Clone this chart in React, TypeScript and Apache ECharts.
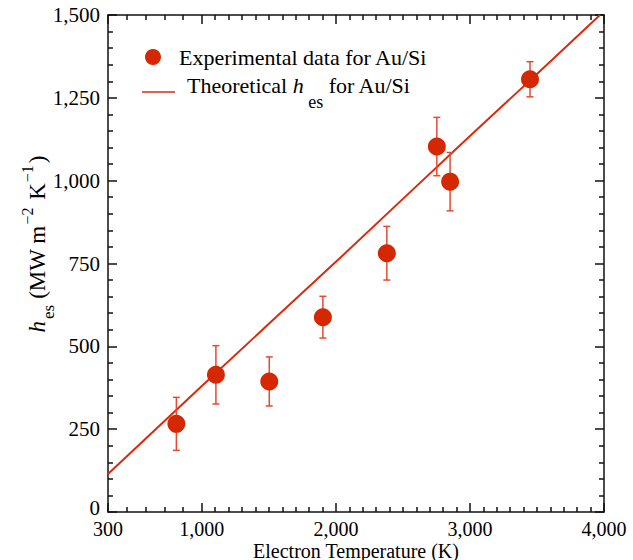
import React, { useEffect, useRef } from 'react';
import * as echarts from 'echarts';

// Experimental data (Electron temperature in K, h_es in MW m^-2 K^-1)
const temperatures = [810, 1105, 1503, 1903, 2380, 2753, 2852, 3448];
const hesMeasured = [266, 414, 394, 588, 781, 1103, 997, 1306];
const hesError = [80, 88, 74, 63, 81, 88, 88, 53];

// Theoretical curve
const theoryT = [300, 1000, 1500, 2000, 2500, 3000, 3500, 3970];
const theoryHes = [115, 380, 568, 755, 945, 1135, 1322, 1500];

// Axis ticks
const xMajorTicks = [300, 1000, 2000, 3000, 4000];
const xMinorTicks = [
  440, 580, 720, 860,
  1100, 1200, 1300, 1400, 1500, 1600, 1700, 1800, 1900,
  2100, 2200, 2300, 2400, 2500, 2600, 2700, 2800, 2900,
  3100, 3200, 3300, 3400, 3500, 3600, 3700, 3800, 3900,
];
const yMin = 0;
const yMax = 1500;
const yStep = 250;

const RED = '#d62800';
const LINE_RED = '#d92b0c';
const ERR_RED = '#e54a30';
const FONT = 'Liberation Serif';
const AXIS_COLOR = '#111';

const fmt = (v: number) => Math.round(v).toLocaleString('en-US');
const fmtY = (v: number) => (v === 0 ? '{z|0}' : fmt(v));

export default function App() {
  const ref = useRef<HTMLDivElement>(null);

  useEffect(() => {
    const chart = echarts.init(ref.current!, null, { renderer: 'svg' });

    const axisLine = { show: true, lineStyle: { color: AXIS_COLOR, width: 1.5 } };
    const tickStyle = { color: AXIS_COLOR, width: 1.5 };

    const xBase = { type: 'value', min: 300, max: 4000, splitLine: { show: false } };
    const yBase = {
      type: 'value', min: yMin, max: yMax, interval: yStep, splitLine: { show: false },
    };

    const errData = temperatures.map((t, i) => [t, hesMeasured[i] - hesError[i], hesMeasured[i] + hesError[i]]);

    const option: any = {
      animation: false,
      backgroundColor: '#fff',
      textStyle: { fontFamily: FONT },
      grid: { left: 108, right: 29, top: 15, bottom: 48, containLabel: false, outerBoundsMode: 'none' },
      xAxis: [
        {
          ...xBase,
          position: 'bottom',
          axisLine,
          axisTick: { show: true, inside: true, length: 9, customValues: xMajorTicks, lineStyle: tickStyle },
          axisLabel: {
            show: true, customValues: xMajorTicks, formatter: fmt, fontSize: 20, lineHeight: 20,
            fontFamily: FONT, color: '#000', margin: 7,
          },
          name: 'Electron Temperature (K)',
          nameLocation: 'middle',
          nameGap: 28.5,
          nameMoveOverlap: false,
          nameTextStyle: { fontSize: 20, lineHeight: 20, fontFamily: FONT, color: '#000' },
        },
        {
          ...xBase,
          position: 'bottom',
          axisLine: { show: false },
          axisTick: { show: true, inside: true, length: 5, customValues: xMinorTicks, lineStyle: tickStyle },
          axisLabel: { show: false },
        },
        {
          ...xBase,
          position: 'top',
          axisLine,
          axisTick: { show: true, inside: true, length: 9, customValues: xMajorTicks, lineStyle: tickStyle },
          axisLabel: { show: false },
        },
        {
          ...xBase,
          position: 'top',
          axisLine: { show: false },
          axisTick: { show: true, inside: true, length: 5, customValues: xMinorTicks, lineStyle: tickStyle },
          axisLabel: { show: false },
        },
      ],
      yAxis: [
        {
          ...yBase,
          position: 'left',
          axisLine,
          axisTick: { show: true, inside: true, length: 9, lineStyle: tickStyle },
          minorTick: { show: true, splitNumber: 5, length: 5, lineStyle: tickStyle },
          axisLabel: {
            show: true, formatter: fmtY, fontSize: 21, lineHeight: 16,
            fontFamily: FONT, color: '#000', margin: 8,
            rich: {
              z: { fontSize: 21, lineHeight: 16, fontFamily: FONT, color: '#000', padding: [0, 0, 8, 0] },
            },
          },
        },
        {
          ...yBase,
          position: 'right',
          axisLine,
          axisTick: { show: true, inside: true, length: 9, lineStyle: tickStyle },
          minorTick: { show: true, splitNumber: 5, length: 5, lineStyle: tickStyle },
          axisLabel: { show: false },
        },
      ],
      series: [
        {
          type: 'line',
          name: 'Theoretical',
          data: theoryT.map((t, i) => [t, theoryHes[i]]),
          showSymbol: false,
          symbol: 'none',
          smooth: false,
          lineStyle: { color: LINE_RED, width: 2 },
          clip: true,
          z: 2,
        },
        {
          type: 'custom',
          name: 'Error',
          data: errData,
          encode: { x: 0, y: [1, 2] },
          z: 3,
          renderItem: (params: any, api: any) => {
            const x = api.value(0);
            const lo = api.coord([x, api.value(1)]);
            const hi = api.coord([x, api.value(2)]);
            const hw = 3.5;
            const style = { stroke: ERR_RED, lineWidth: 1.5 };
            return {
              type: 'group',
              children: [
                { type: 'line', shape: { x1: lo[0], y1: lo[1], x2: hi[0], y2: hi[1] }, style },
                { type: 'line', shape: { x1: lo[0] - hw, y1: lo[1], x2: lo[0] + hw, y2: lo[1] }, style },
                { type: 'line', shape: { x1: hi[0] - hw, y1: hi[1], x2: hi[0] + hw, y2: hi[1] }, style },
              ],
            };
          },
        },
        {
          type: 'scatter',
          name: 'Experimental data for Au/Si',
          data: temperatures.map((t, i) => [t, hesMeasured[i]]),
          symbol: 'circle',
          symbolSize: 18,
          itemStyle: { color: RED, opacity: 1 },
          z: 4,
        },
      ],
      graphic: [
        { type: 'circle', shape: { cx: 153, cy: 57, r: 8 }, style: { fill: RED } },
        {
          type: 'text', x: 179, y: 57,
          style: {
            text: 'Experimental data for Au/Si', fontSize: 22, fontFamily: FONT, fill: '#000',
            align: 'left', verticalAlign: 'middle',
          },
        },
        { type: 'line', shape: { x1: 142, y1: 92, x2: 175, y2: 92 }, style: { stroke: LINE_RED, lineWidth: 1.5 } },
        {
          type: 'text', x: 187, y: 74,
          style: {
            text: '{n|Theoretical }{i|h}{s| es}{n| for Au/Si}',
            align: 'left', verticalAlign: 'top', fill: '#000',
            rich: {
              n: { fontSize: 22, fontFamily: FONT, verticalAlign: 'top', padding: [0, 0, 0, 0] },
              i: { fontSize: 22, fontFamily: FONT, fontStyle: 'italic', verticalAlign: 'top', padding: [0, 0, 0, 0] },
              s: { fontSize: 18, fontFamily: FONT, verticalAlign: 'top', padding: [19, 0, 0, 0] },
            },
          },
        },
        {
          type: 'text', x: 18, y: 244, rotation: Math.PI / 2,
          style: {
            text: '{i|h}{s|es}{n| (MW m}{p|−2}{n| K}{p|−1}{n|)}',
            align: 'center', verticalAlign: 'top', fill: '#000',
            rich: {
              n: { fontSize: 23, fontFamily: FONT, verticalAlign: 'top', padding: [8, 0, 0, 0] },
              i: { fontSize: 23, fontFamily: FONT, fontStyle: 'italic', verticalAlign: 'top', padding: [8, 2, 0, 0] },
              s: { fontSize: 17, fontFamily: FONT, verticalAlign: 'top', padding: [22, 0, 0, 0] },
              p: { fontSize: 16, fontFamily: FONT, verticalAlign: 'top', padding: [1, 2, 0, 1] },
            },
          },
        },
      ],
    };

    chart.setOption(option);
    return () => chart.dispose();
  }, []);

  return <div ref={ref} style={{ position: 'absolute', left: 0, top: 0, width: 633, height: 560 }} />;
}
